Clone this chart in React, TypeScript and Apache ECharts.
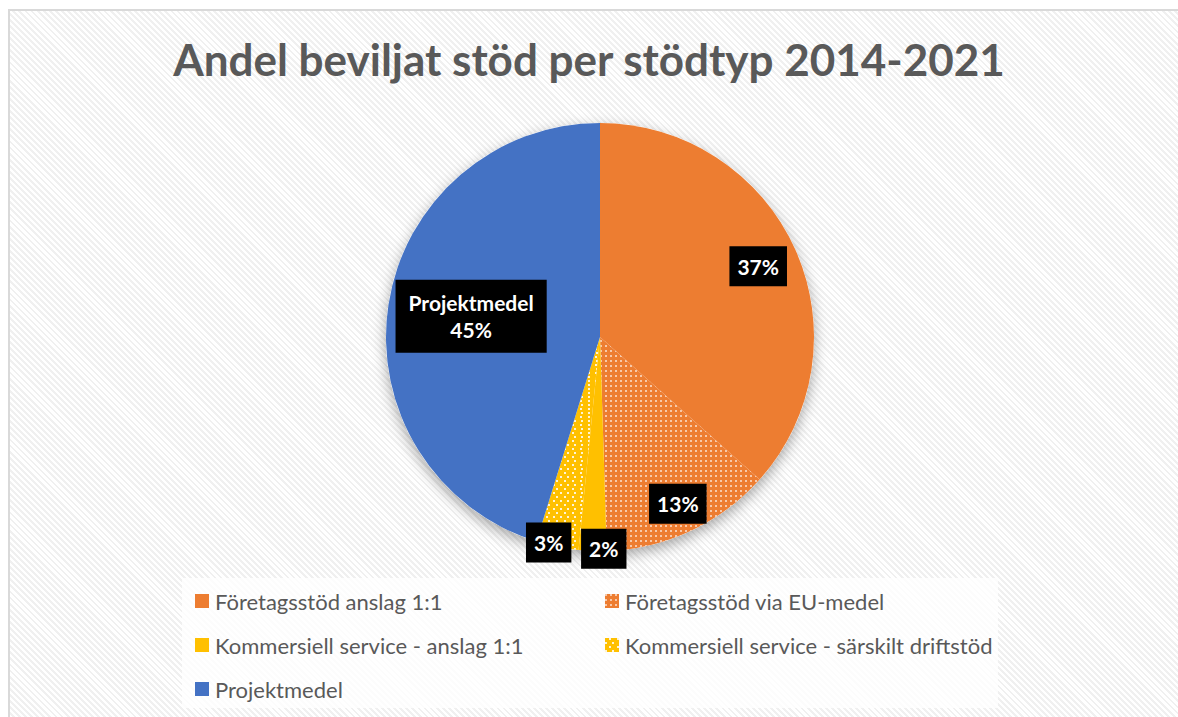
import React, { useEffect, useRef } from "react";
import * as echarts from "echarts";

const titleText = "Andel beviljat stöd per stödtyp 2014-2021";
const categories = [
  "Företagsstöd anslag 1:1",
  "Företagsstöd via EU-medel",
  "Kommersiell service - anslag 1:1",
  "Kommersiell service - särskilt driftstöd",
  "Projektmedel",
];
const values = [36.6, 12.9, 2.1, 3.2, 45.2];
const colors = ["#ED7D31", "#ED7D31", "#FFC000", "#FFC000", "#4472C4"];
const patterned = [false, true, false, true, false];
const showName = [false, false, false, false, true];
// label placement (style): radial fraction and small angle shift (deg)
const labelRadial = [0.81, 0.86, 0.99, 0.99, 0.61];
const labelShift = [0, 0, -3, 2.5, 0.5];

const CX = 600;
const CY = 337;
const R = 214;
const FONT = "Lato, 'Open Sans', sans-serif";

export default function App() {
  const ref = useRef<HTMLDivElement>(null);
  useEffect(() => {
    if (!ref.current) return;
    const chart = echarts.init(ref.current, undefined, { renderer: "svg" });
    const total = values.reduce((a, b) => a + b, 0);
    const decals: any[] = [
      null,
      {
        symbol: "rect",
        symbolSize: 0.85,
        color: "rgba(255,255,255,0.92)",
        dashArrayX: [2, 2.2],
        dashArrayY: [2, 2.2],
        rotation: 0,
      },
      null,
      {
        symbol: "rect",
        symbolSize: 0.9,
        color: "rgba(255,255,255,0.92)",
        dashArrayX: [[2, 5], [0, 3.5, 2, 1.5]],
        dashArrayY: [2, 1.6],
        rotation: 0,
      },
      null,
    ];
    const data = categories.map((name, i) => {
      const itemStyle: any = { color: colors[i] };
      if (patterned[i]) itemStyle.decal = decals[i];
      return {
        name,
        value: values[i],
        itemStyle,
        label: {
          padding: showName[i] ? [10, 13, 9, 13] : [7, 8, 6, 8],
          formatter: (p: any) =>
            (showName[i] ? p.name + "\n" : "") + Math.round(p.percent) + "%",
        },
      };
    });
    const legendText = {
      fontFamily: FONT,
      fontSize: 22,
      lineHeight: 22,
      color: "#595959",
      padding: [0, 0, 0, 1],
    };
    const option: any = {
      animation: false,
      backgroundColor: "transparent",
      title: {
        text: titleText,
        left: "center",
        top: 32,
        textStyle: {
          fontFamily: FONT,
          fontSize: 44,
          fontWeight: "bold",
          color: "#595959",
        },
      },
      graphic: [
        {
          type: "rect",
          left: 182,
          top: 578,
          shape: { width: 816, height: 130 },
          style: { fill: "rgba(255,255,255,0.78)" },
          z: -10,
        },
      ],
      legend: [
        {
          orient: "vertical",
          left: 195,
          top: 590,
          padding: 0,
          itemWidth: 14,
          itemHeight: 14,
          itemGap: 22,
          icon: "rect",
          data: [categories[0], categories[2], categories[4]],
          textStyle: legendText,
        },
        {
          orient: "vertical",
          left: 605,
          top: 590,
          padding: 0,
          itemWidth: 14,
          itemHeight: 14,
          itemGap: 22,
          icon: "rect",
          data: [categories[1], categories[3]],
          textStyle: legendText,
        },
      ],
      series: [
        {
          type: "pie",
          silent: true,
          center: [CX, CY],
          radius: R,
          z: 1,
          label: { show: false },
          labelLine: { show: false },
          itemStyle: {
            color: "#ffffff",
            shadowBlur: 14,
            shadowColor: "rgba(0,0,0,0.35)",
            shadowOffsetY: 5,
          },
          data: [{ name: "__shadow", value: 1 }],
        },
        {
          type: "pie",
          center: [CX, CY],
          radius: R,
          startAngle: 90,
          clockwise: true,
          z: 2,
          itemStyle: { borderWidth: 0 },
          labelLine: { show: false },
          label: {
            show: true,
            position: "inside",
            fontFamily: FONT,
            fontSize: 21,
            fontWeight: "bold",
            color: "#ffffff",
            backgroundColor: "#000000",
            padding: [7, 8, 6, 8],
            lineHeight: 27,
            align: "center",
          },
          labelLayout: (p: any) => {
            if (p.seriesIndex !== 1) return {};
            const i = p.dataIndex;
            let start = 0;
            for (let k = 0; k < i; k++) start += values[k];
            const mid = ((start + values[i] / 2) / total) * 360 + labelShift[i];
            const rad = (mid * Math.PI) / 180;
            const r = R * labelRadial[i];
            return {
              x: CX + r * Math.sin(rad),
              y: CY - r * Math.cos(rad),
              align: "center",
              verticalAlign: "middle",
            };
          },
          data,
        },
      ],
    };
    chart.setOption(option);
    return () => chart.dispose();
  }, []);

  return (
    <div
      style={{
        position: "fixed",
        left: 0,
        top: 0,
        width: 1178,
        height: 717,
        background: "#ffffff",
        overflow: "hidden",
      }}
    >
      <div
        style={{
          position: "absolute",
          left: 8,
          top: 9,
          width: 1200,
          height: 740,
          borderLeft: "2px solid #d9d9d9",
          borderTop: "2px solid #d9d9d9",
          background:
            "repeating-linear-gradient(45deg, #f0f0f0 0px, #f0f0f0 2px, #ffffff 2px, #ffffff 4.3px)",
        }}
      />
      <div
        ref={ref}
        style={{ position: "absolute", left: 0, top: 0, width: 1178, height: 717 }}
      />
    </div>
  );
}
